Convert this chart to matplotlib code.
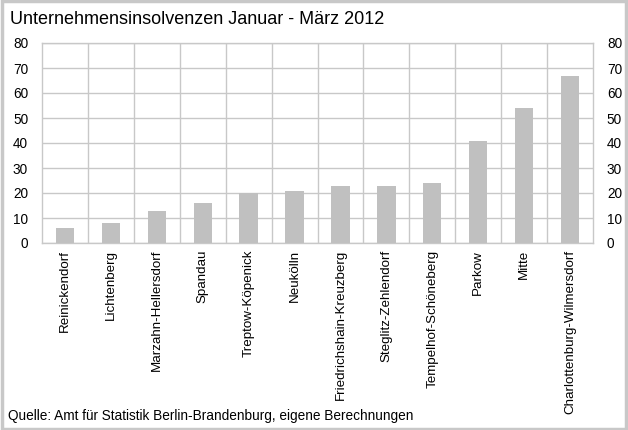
import numpy as np
import matplotlib.pyplot as plt
from matplotlib.patches import Rectangle

plt.rcParams['font.family'] = ['Liberation Sans', 'DejaVu Sans']

# Data
districts = ['Reinickendorf', 'Lichtenberg', 'Marzahn-Hellersdorf', 'Spandau',
             'Treptow-Köpenick', 'Neukölln', 'Friedrichshain-Kreuzberg',
             'Steglitz-Zehlendorf', 'Tempelhof-Schöneberg', 'Parkow', 'Mitte',
             'Charlottenburg-Wilmersdorf']
insolvencies = [6, 8, 13, 16, 20, 21, 23, 23, 24, 41, 54, 67]
yticks = [0, 10, 20, 30, 40, 50, 60, 70, 80]

grid_c = '#c8c8c8'
bar_c = '#c0c0c0'

fig = plt.figure(figsize=(6.28, 4.30), dpi=100)
fig.patches.append(Rectangle((0.003, 0.003), 0.994, 0.994, transform=fig.transFigure,
                             fill=False, edgecolor='#c8c8c8', linewidth=2.5))

ax = fig.add_axes([42 / 628, 1 - 243 / 430, (593 - 42) / 628, (243 - 43) / 430])
x = np.arange(len(districts))
ax.bar(x, insolvencies, width=0.4, color=bar_c, zorder=3)

ax.set_xlim(-0.5, len(districts) - 0.5)
ax.set_ylim(0, 80)
ax.set_yticks(yticks)
ax.yaxis.grid(True, color=grid_c, linewidth=1, zorder=0)
for b in np.arange(0.5, len(districts) - 0.5, 1):
    ax.axvline(b, color=grid_c, linewidth=1, zorder=0)
for s in ax.spines.values():
    s.set_color(grid_c)
    s.set_linewidth(1)

ax.set_xticks(x)
ax.set_xticklabels(districts, rotation=90, fontsize=9.6)
ax.tick_params(axis='x', length=0, pad=5)
ax.tick_params(axis='y', length=0, labelsize=9.8, pad=10, labelright=True)

fig.text(10 / 628, 1 - 20 / 430, 'Unternehmensinsolvenzen Januar - März 2012',
         fontsize=13, va='center', ha='left')
fig.text(8 / 628, 1 - 416 / 430,
         'Quelle: Amt für Statistik Berlin-Brandenburg, eigene Berechnungen',
         fontsize=9.8, va='center', ha='left')

fig.savefig('out.png', dpi=100)
